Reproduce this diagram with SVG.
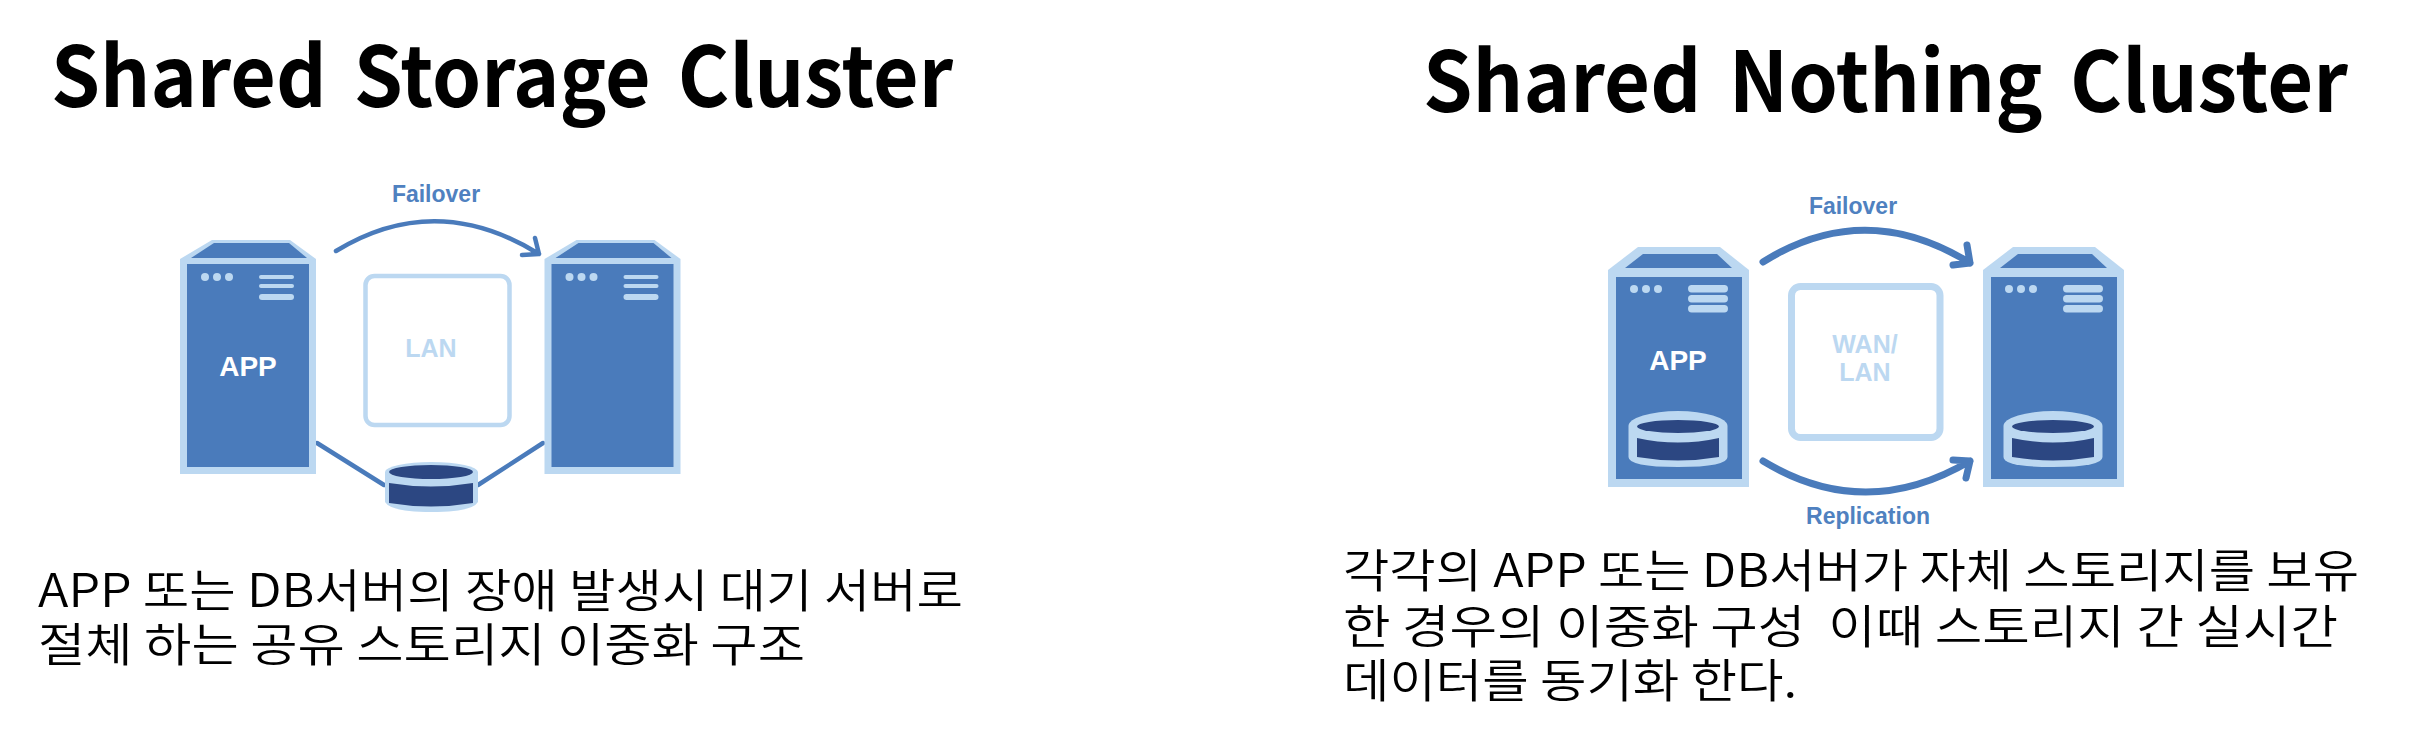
<svg xmlns="http://www.w3.org/2000/svg" xmlns:xlink="http://www.w3.org/1999/xlink" width="2417" height="736" viewBox="0 0 2417 736">
<style>
.bg{fill:#fff}
.title{font-family:"Noto Sans CJK KR","Noto Sans",sans-serif;font-weight:700;font-size:84px;word-spacing:10px;fill:#000}
.body{font-family:"Noto Sans CJK KR","Noto Sans",sans-serif;font-size:46px;font-weight:350;fill:#000}
.lbl{font-family:"Liberation Sans",Arial,sans-serif;font-weight:700;text-anchor:middle}
.blue{fill:#4f81c0;font-size:23px}
.app{fill:#fff;font-size:28px}
.net{fill:#bcd8f1;font-size:25px}
.s-out{fill:#bcd8f1}
.s-in{fill:#4a7bbb}
.pale{fill:#bcd8f1}
.dark{fill:#2c4782}
.box{fill:#fff;stroke:#bcd8f1}
.conn{fill:none;stroke:#4a7bbb;stroke-linecap:round;stroke-linejoin:round}
</style>
<defs>
<g id="srvA">
<polygon class="s-out" points="180,259 212,240 290,240 316,259 316,474 180,474"/>
<polygon class="s-in" points="191,258 214,243 289,243 307,258"/>
<rect class="s-in" x="187" y="264" width="122" height="203"/>
<circle class="pale" cx="205" cy="277" r="4"/><circle class="pale" cx="217" cy="277" r="4"/><circle class="pale" cx="229" cy="277" r="4"/>
<rect class="pale" x="259" y="275" width="35" height="4" rx="2"/><rect class="pale" x="259" y="284" width="35" height="4" rx="2"/><rect class="pale" x="259" y="294" width="35" height="6" rx="3"/>
</g>
<g id="srvB">
<polygon class="s-out" points="1608,270 1638,247 1720,247 1749,270 1749,487 1608,487"/>
<polygon class="s-in" points="1625,268 1643,254 1717,254 1732,268"/>
<rect class="s-in" x="1616" y="277" width="126" height="202"/>
<circle class="pale" cx="1634" cy="289" r="4"/><circle class="pale" cx="1646" cy="289" r="4"/><circle class="pale" cx="1658" cy="289" r="4"/>
<rect class="pale" x="1688" y="285" width="40" height="7.500" rx="3.700"/><rect class="pale" x="1688" y="295" width="40" height="7.500" rx="3.700"/><rect class="pale" x="1688" y="305" width="40" height="7.500" rx="3.700"/>
<path class="pale" d="M1628.500 426a49.500 15 0 0 1 99 0v31q0 10-49.500 10t-49.500-10z"/>
<path class="dark" d="M1637 438q41 9 82 0v19q-41 7-82 0z"/>
<ellipse class="dark" cx="1678" cy="426.500" rx="41" ry="6.500"/>
</g>
</defs>
<rect class="bg" width="2417" height="736"/>

<g id="connectors">
<path class="conn" stroke-width="4.500" d="M336 251Q436 190 539 254M535 238L539 254L522 255"/>
<path class="conn" stroke-width="4.500" d="M317 443L384 485M478 485L543 443"/>
<path class="conn" stroke-width="7" d="M1763 262Q1865 198 1970 263M1967 245L1970 263L1953 265"/>
<path class="conn" stroke-width="7" d="M1763 461Q1865 523 1970 461M1953 460L1970 461L1966 478"/>
</g>

<g id="title-left"><text class="title" x="51" y="107" textLength="902" lengthAdjust="spacingAndGlyphs">Shared Storage Cluster</text></g>
<g id="title-right"><text class="title" x="1423" y="112" textLength="925" lengthAdjust="spacingAndGlyphs">Shared Nothing Cluster</text></g>

<g id="server-left-a"><use xlink:href="#srvA" href="#srvA"/><text class="lbl app" x="248" y="376">APP</text></g>
<g id="server-left-b"><use xlink:href="#srvA" href="#srvA" x="364.5"/></g>
<g id="lan-left"><rect class="box" x="365.500" y="276" width="144" height="149" rx="9" stroke-width="4.500"/><text class="lbl net" x="431" y="357">LAN</text></g>
<g id="storage-left">
<path class="pale" d="M385 472a46.500 10 0 0 1 93 0v30q-6 10-46.500 10t-46.500-10z"/>
<path class="dark" d="M389 483q42 7 84 0v20q-42 7-84 0z"/>
<ellipse class="dark" cx="431" cy="472" rx="42" ry="7"/>
</g>
<g id="label-failover-left"><text class="lbl blue" x="436" y="202">Failover</text></g>

<g id="server-right-a"><use xlink:href="#srvB" href="#srvB"/><text class="lbl app" x="1678" y="370">APP</text></g>
<g id="server-right-b"><use xlink:href="#srvB" href="#srvB" x="375"/></g>
<g id="wan-right"><rect class="box" x="1791.500" y="286.500" width="148.500" height="151" rx="9" stroke-width="7"/><text class="lbl net" x="1865" y="353">WAN/</text><text class="lbl net" x="1865" y="381">LAN</text></g>
<g id="label-failover-right"><text class="lbl blue" x="1853" y="214">Failover</text></g>
<g id="label-replication"><text class="lbl blue" x="1868" y="524">Replication</text></g>

<g id="desc-left">
<text class="body" x="38" y="607" textLength="925" lengthAdjust="spacingAndGlyphs">APP 또는 DB서버의 장애 발생시 대기 서버로</text>
<text class="body" x="38" y="661" textLength="767" lengthAdjust="spacingAndGlyphs">절체 하는 공유 스토리지 이중화 구조</text>
</g>
<g id="desc-right">
<text class="body" x="1343" y="587" textLength="1016" lengthAdjust="spacingAndGlyphs">각각의 APP 또는 DB서버가 자체 스토리지를 보유</text>
<text class="body" x="1343" y="643" xml:space="preserve" textLength="995" lengthAdjust="spacingAndGlyphs">한 경우의 이중화 구성  이때 스토리지 간 실시간</text>
<text class="body" x="1343" y="697" textLength="454" lengthAdjust="spacingAndGlyphs">데이터를 동기화 한다.</text>
</g>
</svg>
